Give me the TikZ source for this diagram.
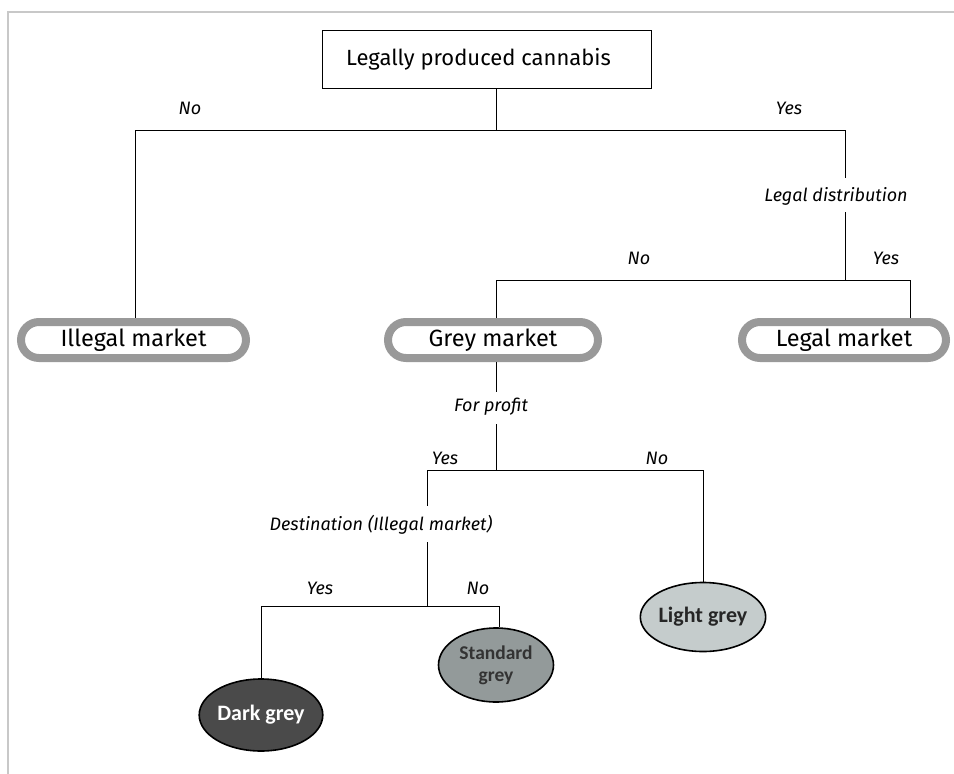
\documentclass[tikz,border=0pt]{standalone}
\usepackage{fontspec}
\setmainfont{Fira Sans}
\newfontfamily\ellfont{Carlito}
\usetikzlibrary{shapes.geometric}
\definecolor{pillc}{HTML}{999999}
\definecolor{framec}{HTML}{C8C8C8}
\definecolor{darkg}{HTML}{4A4A4A}
\definecolor{stdg}{HTML}{939A9A}
\definecolor{lightg}{HTML}{C5CCCC}
\tikzset{
  rootbox/.style={draw, line width=0.9pt, minimum width=329pt, minimum height=58pt, inner sep=0pt, font=\fontsize{22}{26}\selectfont},
  pill/.style={draw=pillc, line width=8pt, rounded corners=18pt, minimum height=36pt, inner sep=0pt, font=\fontsize{23.5}{27}\selectfont},
  lbl/.style={font=\itshape\fontsize{18}{21}\selectfont, inner sep=1pt},
  conn/.style={line width=0.9pt},
  ell/.style={ellipse, draw, line width=1.6pt, inner sep=0pt, align=center, font=\ellfont\bfseries\fontsize{22}{22}\selectfont},
}
\begin{document}
\begin{tikzpicture}[x=1pt,y=-1pt]
\useasboundingbox (0,0) rectangle (954,774);
\draw[framec, line width=1.5pt] (954,12) -- (8,12) -- (8,774);
% nodes
\node[rootbox] (root) at (486.5,59) {\hspace*{-16pt}Legally produced cannabis};
\node[pill, minimum width=225pt] (illegal) at (133.5,340) {Illegal market};
\node[pill, minimum width=210pt] (grey) at (493,340) {Grey market};
\node[pill, minimum width=204pt] (legal) at (844,340) {Legal market};
\node[ell, fill=darkg, text=white, minimum width=112pt, minimum height=72pt] (dark) at (261,715) {Dark grey};
\node[ell, fill=stdg, text=black!80, minimum width=115pt, minimum height=74pt, font=\ellfont\bfseries\fontsize{19.5}{22}\selectfont] (std) at (496,665) {Standard\\grey};
\node[ell, fill=lightg, text=black!85, minimum width=119pt, minimum height=69pt] (light) at (703,617) {Light grey};
% labels
\node[lbl] (no1) at (190,108) {No};
\node[lbl] (yes1) at (789,108) {Yes};
\node[lbl] (legdist) at (836,196) {Legal distribution};
\node[lbl] (no2) at (639,258) {No};
\node[lbl] (yes2) at (886,258) {Yes};
\node[lbl] (profit) at (491,407) {For profit};
\node[lbl] (yes3) at (445,458) {Yes};
\node[lbl] (no3) at (657,458) {No};
\node[lbl] (dest) at (381,525) {Destination (Illegal market)};
\node[lbl] (yes4) at (320,588) {Yes};
\node[lbl] (no4) at (478,588) {No};
% junction coordinates
\coordinate (j1) at (496,130);
\coordinate (j2) at (845,280);
\coordinate (j3) at (496,470);
\coordinate (j4) at (427,606);
% connectors
\draw[conn] (root.south -| j1) -- (j1);
\draw[conn] (135,130) -- (845,130);
\draw[conn] (135,130) -- (illegal.north -| 135,0);
\draw[conn] (845,130) -- (845,178);
\draw[conn] (845,212) -- (j2);
\draw[conn] (496,280) -- (910,280);
\draw[conn] (496,280) -- (grey.north -| 496,0);
\draw[conn] (910,280) -- (legal.north -| 910,0);
\draw[conn] (grey.south -| 496,0) -- (496,392);
\draw[conn] (496,424) -- (j3);
\draw[conn] (427,470) -- (703,470);
\draw[conn] (703,470) -- (light.north);
\draw[conn] (427,470) -- (427,506);
\draw[conn] (427,542) -- (j4);
\draw[conn] (261,606) -- (499,606);
\draw[conn] (261,606) -- (dark.north);
\draw[conn] (499,606) -- (std.north -| 499,0);
\end{tikzpicture}
\end{document}
